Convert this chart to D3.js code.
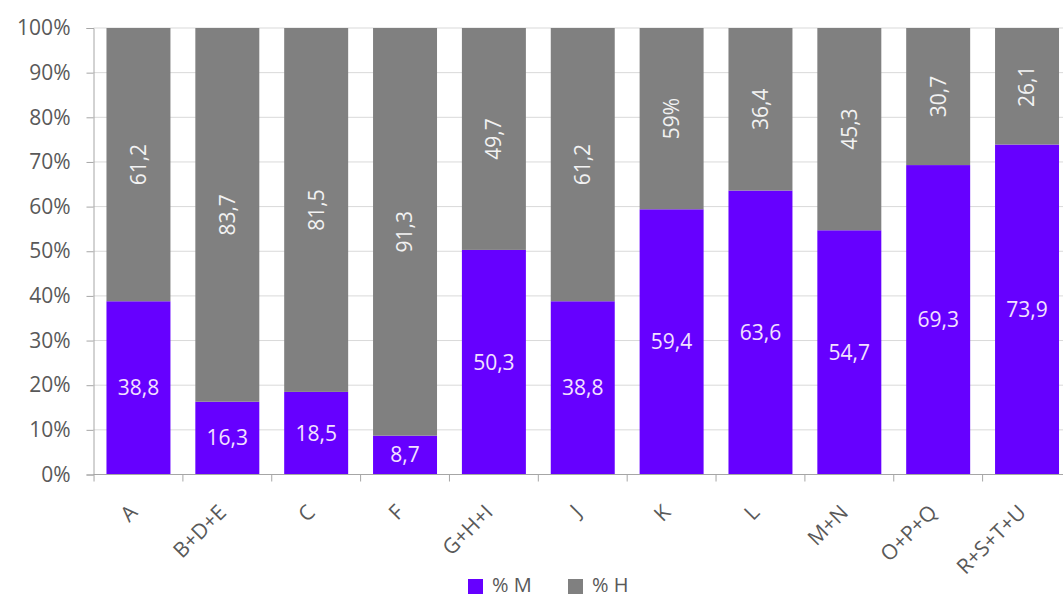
<!DOCTYPE html>
<html>
<head>
<meta charset="utf-8">
<script src="https://cdn.jsdelivr.net/npm/d3@7"></script>
<style>
  html, body { margin: 0; padding: 0; background: #fff; }
  svg { display: block; font-family: "Open Sans", sans-serif; }
</style>
</head>
<body>
<svg id="chart" width="1063" height="599"></svg>
<script>
const categories = ["A", "B+D+E", "C", "F", "G+H+I", "J", "K", "L", "M+N", "O+P+Q", "R+S+T+U"];
const valuesM = [38.8, 16.3, 18.5, 8.7, 50.3, 38.8, 59.4, 63.6, 54.7, 69.3, 73.9];
const valuesH = [61.2, 83.7, 81.5, 91.3, 49.7, 61.2, 40.6, 36.4, 45.3, 30.7, 26.1];
const labelsM = ["38,8", "16,3", "18,5", "8,7", "50,3", "38,8", "59,4", "63,6", "54,7", "69,3", "73,9"];
const labelsH = ["61,2", "83,7", "81,5", "91,3", "49,7", "61,2", "59%", "36,4", "45,3", "30,7", "26,1"];
const yTicks = [0, 10, 20, 30, 40, 50, 60, 70, 80, 90, 100];
const seriesNames = ["% M", "% H"];

const colM = "#6600ff", colH = "#808080";
const svg = d3.select("#chart");

const x = d3.scaleBand().domain(categories).range([93.5, 1072]).paddingInner(0.28).paddingOuter(0.146);
const y = d3.scaleLinear().domain([0, 100]).range([474.5, 28]);

// gridlines
svg.append("g").selectAll("line").data(yTicks.filter(d => d > 0)).join("line")
  .attr("x1", 93.5).attr("x2", 1072)
  .attr("y1", d => y(d)).attr("y2", d => y(d))
  .attr("stroke", "#d9d9d9").attr("stroke-width", 1);

// bars
const data = categories.map((c, i) => ({c, m: valuesM[i], h: valuesH[i], lm: labelsM[i], lh: labelsH[i]}));
const g = svg.append("g");
g.selectAll("rect.m").data(data).join("rect").attr("class", "m")
  .attr("x", d => x(d.c)).attr("width", x.bandwidth())
  .attr("y", d => y(d.m)).attr("height", d => y(0) - y(d.m))
  .attr("fill", colM);
g.selectAll("rect.h").data(data).join("rect").attr("class", "h")
  .attr("x", d => x(d.c)).attr("width", x.bandwidth())
  .attr("y", d => y(d.m + d.h)).attr("height", d => y(d.m) - y(d.m + d.h))
  .attr("fill", colH);

// labels
g.selectAll("text.lm").data(data).join("text").attr("class", "lm")
  .attr("x", d => x(d.c) + x.bandwidth() / 2)
  .attr("y", d => y(d.m / 2))
  .attr("dy", "0.35em")
  .attr("text-anchor", "middle")
  .attr("font-size", 21).attr("fill", "#f3e2ff")
  .text(d => d.lm);
g.selectAll("text.lh").data(data).join("text").attr("class", "lh")
  .attr("transform", d => `translate(${x(d.c) + x.bandwidth() / 2},${y(d.m + d.h / 2)}) rotate(-90)`)
  .attr("dy", "0.35em")
  .attr("text-anchor", "middle")
  .attr("font-size", 21).attr("fill", "#f2f2f2")
  .text(d => d.lh);

// y axis
const yAxis = d3.axisLeft(y).tickValues(yTicks).tickFormat(d => d + "%").tickSize(7).tickPadding(16);
const ya = svg.append("g").attr("transform", "translate(93.5,0)").call(yAxis);
ya.select(".domain").attr("stroke", "#a6a6a6");
ya.selectAll(".tick line").attr("stroke", "#a6a6a6");
ya.selectAll(".tick text").attr("font-size", 21).attr("fill", "#595959").attr("font-family", "Open Sans, sans-serif");

// x axis
const xa = svg.append("g").attr("transform", `translate(0,${y(0)})`);
xa.append("line").attr("x1", 93.5).attr("x2", 1072).attr("y1", 0).attr("y2", 0).attr("stroke", "#a6a6a6");
const step = x.step();
xa.selectAll("line.tk").data(categories).join("line").attr("class", "tk")
  .attr("x1", d => x(d) - (step - x.bandwidth()) / 2).attr("x2", d => x(d) - (step - x.bandwidth()) / 2)
  .attr("y1", 0).attr("y2", 7).attr("stroke", "#a6a6a6");
xa.selectAll("text").data(categories).join("text")
  .attr("transform", d => `translate(${x(d) + x.bandwidth() / 2 - 5},${34}) rotate(-45)`)
  .attr("text-anchor", "end")
  .attr("dy", "0.35em")
  .attr("font-size", 21).attr("fill", "#595959")
  .text(d => d);

// legend
const legend = svg.append("g");
const lx = [468, 568];
seriesNames.forEach((s, i) => {
  legend.append("rect").attr("x", lx[i]).attr("y", 579).attr("width", 15).attr("height", 15)
    .attr("fill", i === 0 ? colM : colH);
  legend.append("text").attr("x", lx[i] + 24).attr("y", 585).attr("dy", "0.35em")
    .attr("font-size", 20).attr("fill", "#595959").text(s);
});
</script>
</body>
</html>
